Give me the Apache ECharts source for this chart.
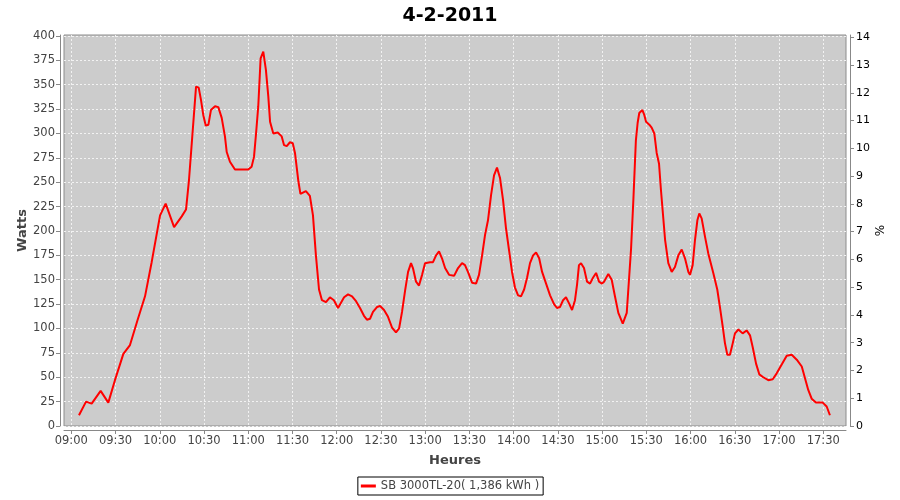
<!DOCTYPE html>
<html><head><meta charset="utf-8">
<script src="https://cdn.jsdelivr.net/npm/echarts@6/dist/echarts.min.js"></script>
<style>html,body{margin:0;padding:0;background:#fff}#c{width:900px;height:500px}</style>
</head><body><div id="c"></div>
<script>
const chartTitle = '4-2-2011';
const seriesName = 'SB 3000TL-20( 1,386 kWh )';
const xName = 'Heures';
const yName = 'Watts';
const y2Name = '%';

// minutes after 09:00
const minutes = [
5.2,10.0,13.8,19.9,25.1,29.6,35.3,39.8,45.0,50.0,54.5,60.2,64.0,69.7,74.9,77.8,79.8,84.6,86.4,88.0,
89.5,91.2,93.0,94.7,97.5,99.7,102.0,104.2,105.4,107.6,111.0,114.4,117.8,120.0,122.3,123.9,125.3,126.8,128.4,130.2,
132.0,133.6,134.8,137.0,140.0,142.7,144.3,146.1,148.3,150.2,151.7,154.0,155.4,159.1,161.8,163.9,165.9,168.0,170.0,172.7,
175.4,178.1,180.9,185.0,187.7,190.4,193.1,195.8,198.5,200.5,202.6,204.6,207.3,209.4,212.1,214.8,217.5,220.2,222.3,224.3,
226.4,228.4,230.4,231.7,233.8,235.8,237.9,239.9,243.3,245.3,247.4,249.4,251.4,253.5,256.2,259.6,262.3,265.0,267.0,269.0,
271.8,274.5,276.5,278.6,280.6,282.6,284.7,286.7,288.7,290.8,292.8,294.8,296.9,298.9,300.9,303.0,305.0,307.1,309.1,311.1,
313.2,315.2,317.3,319.3,322.0,324.7,327.4,329.4,331.4,333.5,335.5,337.5,339.6,341.6,343.0,344.3,345.7,347.7,349.8,351.8,
353.8,355.9,357.9,359.9,361.3,364.2,366.5,368.7,371.0,374.0,376.7,379.6,381.2,382.9,384.1,385.2,387.3,388.6,389.8,392.0,
393.6,395.4,397.0,398.6,399.9,402.7,404.9,407.2,409.4,411.7,414.0,416.2,418.5,419.6,421.4,423.0,424.6,425.9,427.5,429.8,
432.0,435.4,438.1,439.9,441.8,443.3,444.9,446.7,448.6,450.1,452.4,455.3,458.0,460.3,462.1,464.4,466.6,469.3,472.7,475.7,
478.4,481.8,485.2,488.6,492.0,495.4,497.6,499.8,502.1,505.0,509.6,512.3,514.5
];
const watts = [
11,25,23,36,24,47,74,83,109,133,168,216,228,204,215,222,252,348,347,334,
319,308,309,324,328,327,316,297,281,271,263,263,263,263,266,276,300,328,377,384,
365,338,312,300,301,297,288,287,291,290,280,251,238,241,236,216,175,140,129,127,
132,129,121,132,135,133,128,121,113,109,110,117,122,123,119,112,101,96,100,117,
139,158,167,162,148,144,155,167,168,168,175,179,172,162,155,154,162,167,165,158,
147,146,155,175,196,211,237,257,265,254,232,203,180,158,142,134,133,140,152,167,
175,178,172,158,146,134,125,121,122,129,132,126,119,129,145,165,167,162,148,146,
152,157,148,146,148,156,150,133,116,105,116,181,232,293,311,321,324,319,312,309,
306,300,280,269,242,191,167,158,163,175,181,172,158,155,165,191,211,218,213,194,
177,157,140,122,102,85,73,73,85,95,99,95,98,93,81,64,53,50,47,48,
54,63,72,73,68,61,49,37,28,24,24,20,11
];

const timeTicks = ['09:00','09:30','10:00','10:30','11:00','11:30','12:00','12:30','13:00','13:30','14:00','14:30','15:00','15:30','16:00','16:30','17:00','17:30'];
const wattTicks = [0,25,50,75,100,125,150,175,200,225,250,275,300,325,350,375,400];
const pctTicks = [0,1,2,3,4,5,6,7,8,9,10,11,12,13,14];

const toMin = s => { const p = s.split(':'); return +p[0]*60 + +p[1]; };
const fmt = v => { const h = Math.floor(v/60), m = Math.round(v - h*60); return (h<10?'0':'')+h+':'+(m<10?'0':'')+m; };
const tickMinutes = timeTicks.map(toMin);
const data = minutes.map((m,i) => [540 + m, watts[i]]);

const FONT = 'DejaVu Sans';
const gridLine = {show:true, lineStyle:{color:'#f2f2f2', width:1, type:[2,2]}};
const axisGray = {show:true, onZero:false, lineStyle:{color:'#888', width:1}};

const chart = echarts.init(document.getElementById('c'), null, {renderer:'canvas'});
chart.setOption({
  animation:false,
  backgroundColor:'#ffffff',
  title:{text:chartTitle, left:'center', top:2, textStyle:{fontFamily:FONT, fontSize:19, fontWeight:'bold', color:'#000'}},
  grid:{left:64, right:54, top:35, bottom:74, show:true, backgroundColor:'#cccccc', borderColor:'#8c8c8c', borderWidth:1},
  legend:{data:[seriesName], top:477, left:'center', borderColor:'#000', borderWidth:1, padding:[3,4,3,3],
    itemWidth:15, itemHeight:3, icon:'rect', backgroundColor:'#fff',
    textStyle:{fontFamily:FONT, fontSize:11.5, color:'#444'}},
  xAxis:{type:'value', min:535.05, max:1065.4, offset:4,
    name:xName, nameLocation:'middle', nameGap:24, nameMoveOverlap:false,
    nameTextStyle:{fontFamily:FONT, fontSize:13, fontWeight:'bold', color:'#444'},
    axisLine:axisGray,
    axisTick:{show:true, length:4, customValues:tickMinutes, lineStyle:{color:'#888'}},
    axisLabel:{customValues:tickMinutes, formatter:fmt, fontFamily:FONT, fontSize:11.5, color:'#444', margin:5},
    splitLine:gridLine},
  yAxis:[
    {type:'value', min:0, max:401, offset:4, position:'left',
     name:yName, nameLocation:'middle', nameRotate:90, nameGap:31, nameMoveOverlap:false,
     nameTextStyle:{fontFamily:FONT, fontSize:13, fontWeight:'bold', color:'#444'},
     axisLine:axisGray,
     axisTick:{show:true, length:4, customValues:wattTicks, lineStyle:{color:'#888'}},
     axisLabel:{customValues:wattTicks, fontFamily:FONT, fontSize:11.5, color:'#444', margin:5},
     splitLine:gridLine},
    {type:'value', min:0, max:14.08, offset:4, position:'right',
     name:y2Name, nameLocation:'middle', nameRotate:90, nameGap:25, nameMoveOverlap:false,
     nameTextStyle:{fontFamily:FONT, fontSize:12, color:'#000'},
     axisLine:axisGray,
     axisTick:{show:true, length:4, customValues:pctTicks, lineStyle:{color:'#888'}},
     axisLabel:{customValues:pctTicks, fontFamily:FONT, fontSize:11, color:'#000', margin:6},
     splitLine:{show:false}}
  ],
  series:[{type:'line', name:seriesName, data:data, xAxisIndex:0, yAxisIndex:0,
    symbol:'none', showSymbol:false, smooth:false,
    lineStyle:{color:'#ff0000', width:2}, itemStyle:{color:'#ff0000'}}]
});
</script>
</body></html>
